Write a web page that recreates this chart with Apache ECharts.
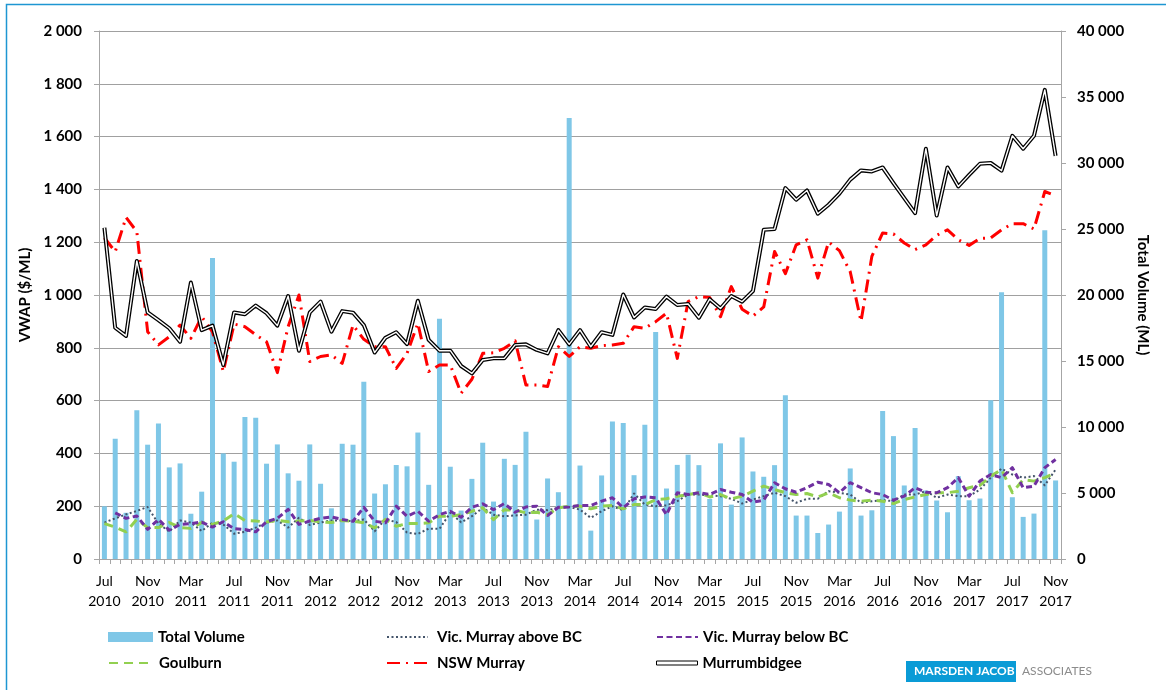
<!DOCTYPE html>
<html>
<head>
<meta charset="utf-8">
<title>VWAP and total volume</title>
<script src="https://cdn.jsdelivr.net/npm/echarts@6/dist/echarts.min.js"></script>
<style>
html, body { margin: 0; padding: 0; background: #fff; }
#chart { width: 1166px; height: 690px; }
</style>
</head>
<body>
<div id="chart"></div>
<script>
//月份名称
var monthNames = ['Jan', 'Feb', 'Mar', 'Apr', 'May', 'Jun', 'Jul', 'Aug', 'Sep', 'Oct', 'Nov', 'Dec'];

//类目: Jul 2010 - Nov 2017
var categories = [];
for (var k = 0; k < 89; k++) {
	var m = (6 + k) % 12;
	var y = 2010 + Math.floor((6 + k) / 12);
	categories.push(monthNames[m] + '\n' + y);
}

//Total Volume (ML), right axis
var totalVolume = [3990, 9110, 3500, 11260, 8660, 10270, 6940, 7240, 3430, 5100,
	22800, 8000, 7370, 10750, 10700, 7220, 8680, 6490, 5930, 8680,
	5700, 3840, 8730, 8660, 13420, 4960, 5660, 7120, 7020, 9580,
	5620, 18200, 6990, 3670, 6070, 8810, 4350, 7590, 7130, 9640,
	2990, 6100, 5060, 33400, 7080, 2150, 6330, 10420, 10300, 6350,
	10170, 17200, 5340, 7130, 7900, 7110, 4550, 8760, 4120, 9210,
	6630, 6230, 7110, 12400, 3290, 3290, 1970, 2610, 3590, 6860,
	3290, 3690, 11210, 9310, 5570, 9920, 5190, 4430, 3540, 6270,
	4450, 4580, 12020, 20200, 4680, 3190, 3440, 24900, 5950];

//VWAP ($/ML)
var vicAboveBC = [138, 154, 169, 182, 197, 134, 104, 146, 138, 106,
	138, 131, 96, 103, 119, 138, 146, 119, 156, 129,
	138, 146, 146, 143, 150, 105, 150, 140, 100, 95,
	115, 114, 175, 139, 162, 194, 168, 162, 165, 168,
	187, 185, 194, 197, 187, 156, 181, 200, 184, 248,
	206, 200, 203, 219, 244, 244, 241, 238, 228, 210,
	225, 238, 251, 238, 213, 228, 228, 257, 251, 244,
	213, 219, 223, 219, 244, 244, 257, 232, 244, 238,
	238, 263, 308, 342, 320, 308, 314, 279, 339];

var vicBelowBC = [null, 175, 154, 163, 112, 150, 109, 131, 134, 140,
	121, 141, 115, 112, 103, 141, 154, 188, 131, 144,
	154, 159, 150, 143, 196, 143, 137, 200, 162, 181,
	143, 168, 181, 158, 196, 209, 187, 210, 177, 197,
	200, 165, 196, 197, 203, 203, 219, 232, 194, 228,
	235, 232, 168, 251, 244, 251, 244, 263, 253, 244,
	215, 223, 289, 266, 253, 270, 291, 282, 251, 289,
	270, 251, 244, 223, 238, 270, 253, 251, 270, 308,
	238, 295, 320, 308, 346, 270, 276, 346, 377];

var goulburn = [134, 121, 103, 150, 119, 119, 138, 119, 116, 138,
	131, 144, 172, 146, 144, 140, 146, 141, 144, 146,
	140, 138, 146, 143, 137, 118, 150, 124, 134, 134,
	137, 162, 162, 168, 181, 194, 149, 187, 185, 175,
	177, 168, 194, 200, 200, 190, 200, 203, 190, 206,
	206, 225, 228, 238, 244, 251, 235, 244, 228, 238,
	257, 276, 263, 251, 244, 248, 235, 251, 232, 223,
	219, 223, 219, 210, 225, 235, 244, 251, 251, 257,
	270, 279, 314, 339, 251, 301, 295, 308, 327];

var nswMurray = [1217, 1164, 1294, 1240, 861, 811, 842, 886, 836, 918,
	860, 710, 890, 880, 849, 823, 706, 880, 1000, 748,
	767, 773, 741, 886, 832, 804, 804, 722, 779, 893,
	710, 735, 735, 628, 681, 779, 781, 798, 826, 659,
	659, 653, 804, 767, 804, 798, 808, 811, 817, 880,
	874, 899, 931, 760, 975, 994, 991, 918, 1032, 946,
	920, 955, 1165, 1081, 1190, 1209, 1064, 1201, 1168, 1088,
	900, 1146, 1235, 1231, 1197, 1172, 1190, 1226, 1247, 1209,
	1188, 1214, 1216, 1247, 1270, 1270, 1250, 1392, 1376];

var murrumbidgee = [1255, 876, 845, 1129, 934, 905, 874, 823, 1047, 867,
	884, 735, 934, 927, 960, 931, 884, 996, 789, 934,
	975, 861, 939, 933, 886, 782, 838, 859, 814, 978,
	830, 789, 789, 731, 703, 754, 760, 760, 811, 813,
	792, 779, 867, 813, 867, 804, 859, 849, 1002, 915,
	953, 947, 994, 962, 966, 914, 984, 949, 996, 975,
	1015, 1247, 1250, 1405, 1361, 1396, 1308, 1342, 1384, 1437,
	1472, 1468, 1483, 1424, 1367, 1310, 1554, 1301, 1483, 1411,
	1455, 1497, 1500, 1471, 1603, 1554, 1603, 1777, 1527];

var FONT = 'Lato';

//千位空格
function spaced(v) {
	return String(v).replace(/\B(?=(\d{3})+(?!\d))/g, ' ');
}

//单项图例, middle 为文字中线
function legendItem(name, left, middle, w, h, textGap, extra) {
	var item = { name: name };
	if (extra) {
		for (var key in extra) item[key] = extra[key];
	} else {
		//线型图例不画符号
		item.itemStyle = { color: 'rgba(0,0,0,0)', borderColor: 'rgba(0,0,0,0)', borderWidth: 0, opacity: 0 };
	}
	return {
		left: left,
		top: middle - 9,
		padding: 0,
		itemWidth: w,
		itemHeight: h,
		itemGap: 0,
		selectedMode: false,
		textStyle: {
			fontFamily: FONT, fontSize: 15, fontWeight: 'bold', color: '#000',
			lineHeight: 18, padding: [0, 0, 0, textGap]
		},
		data: [item]
	};
}

function lineSeries(name, data, color, width, dash, z) {
	return {
		name: name,
		type: 'line',
		yAxisIndex: 0,
		data: data,
		symbol: 'none',
		showSymbol: false,
		connectNulls: false,
		z: z,
		lineStyle: { color: color, width: width, type: dash, cap: 'butt', join: 'round' },
		itemStyle: { color: color },
		emphasis: { disabled: true },
		animation: false
	};
}

var chart = echarts.init(document.getElementById('chart'), null, { renderer: 'canvas' });

var option = {
	backgroundColor: '#fff',
	animation: false,
	textStyle: { fontFamily: FONT },
	grid: { left: 99, right: 105, top: 31, bottom: 131, containLabel: false },
	legend: [
		legendItem('Total Volume', 108, 637, 45, 10, 0, { icon: 'rect' }),
		legendItem('Goulburn', 108, 663, 45, 14, 0),
		legendItem('Vic. Murray above BC', 386, 637, 41, 14, 4),
		legendItem('NSW Murray', 386, 663, 41, 14, 4),
		legendItem('Vic. Murray below BC', 656, 637, 41, 14, 0),
		legendItem('Murrumbidgee', 656, 663, 41, 4, 0,
			{ icon: 'rect', itemStyle: { color: '#fff', borderColor: '#000', borderWidth: 1 } })
	],
	xAxis: {
		type: 'category',
		data: categories,
		boundaryGap: true,
		axisLine: { lineStyle: { color: '#A6A6A6', width: 1 } },
		axisTick: { show: true, interval: 0, length: 5, lineStyle: { color: '#A6A6A6' } },
		axisLabel: {
			interval: 3,
			margin: 12,
			color: '#000',
			fontFamily: FONT,
			fontSize: 14,
			lineHeight: 20
		},
		splitLine: { show: false }
	},
	yAxis: [{
		type: 'value',
		min: 0,
		max: 2000,
		interval: 200,
		position: 'left',
		name: 'VWAP ($/ML)',
		nameLocation: 'middle',
		nameGap: 62,
		nameTextStyle: { fontFamily: FONT, fontSize: 15, fontWeight: 'bold', color: '#000' },
		axisLine: { show: true, lineStyle: { color: '#A6A6A6' } },
		axisTick: { show: true, length: 5, lineStyle: { color: '#A6A6A6' } },
		axisLabel: {
			margin: 17,
			color: '#000',
			fontFamily: FONT,
			fontSize: 15,
			fontWeight: 'bold',
			formatter: spaced
		},
		splitLine: { show: true, lineStyle: { color: '#A0A0A0', width: 1 } }
	}, {
		type: 'value',
		min: 0,
		max: 40000,
		interval: 5000,
		position: 'right',
		name: 'Total Volume (ML)',
		nameLocation: 'middle',
		nameGap: 70,
		nameRotate: -90,
		nameTextStyle: { fontFamily: FONT, fontSize: 15, fontWeight: 'bold', color: '#000' },
		axisLine: { show: true, lineStyle: { color: '#A6A6A6' } },
		axisTick: { show: true, length: 5, lineStyle: { color: '#A6A6A6' } },
		axisLabel: {
			margin: 16,
			color: '#000',
			fontFamily: FONT,
			fontSize: 15,
			fontWeight: 'bold',
			formatter: spaced
		},
		splitLine: { show: false }
	}],
	series: [
		{
			name: 'Total Volume',
			type: 'bar',
			yAxisIndex: 1,
			data: totalVolume,
			barWidth: 5,
			z: 1,
			itemStyle: { color: '#7FC7E7' },
			emphasis: { disabled: true }
		},
		lineSeries('Vic. Murray above BC', vicAboveBC, '#44546A', 2, [2, 2.5], 3),
		lineSeries('Goulburn', goulburn, '#92D050', 3, [9, 6], 4),
		lineSeries('Vic. Murray below BC', vicBelowBC, '#7030A0', 3, [6, 3.5], 5),
		lineSeries('NSW Murray', nswMurray, '#FF0000', 3, [13, 6, 2, 6], 6),
		lineSeries('Murrumbidgee', murrumbidgee, '#000000', 4, 'solid', 7),
		lineSeries('Murrumbidgee inner', murrumbidgee, '#FFFFFF', 1.4, 'solid', 8)
	],
	graphic: [
		{
			type: 'rect',
			silent: true,
			shape: { x: 6.5, y: 4.5, width: 1300, height: 800 },
			style: { fill: 'none', stroke: '#1E96D2', lineWidth: 1.5 }
		},
		{
			type: 'rect',
			silent: true,
			shape: { x: 906, y: 661, width: 110, height: 21 },
			style: { fill: '#0A9BD6' }
		},
		{
			type: 'text',
			silent: true,
			left: 914,
			top: 665,
			style: { text: 'MARSDEN JACOB', fill: '#fff', font: 'bold 12px Lato' }
		},
		{
			type: 'text',
			silent: true,
			left: 1022,
			top: 665,
			style: { text: 'ASSOCIATES', fill: '#8C8C8C', font: '12px Lato' }
		}
	]
};

chart.setOption(option);
</script>
</body>
</html>
